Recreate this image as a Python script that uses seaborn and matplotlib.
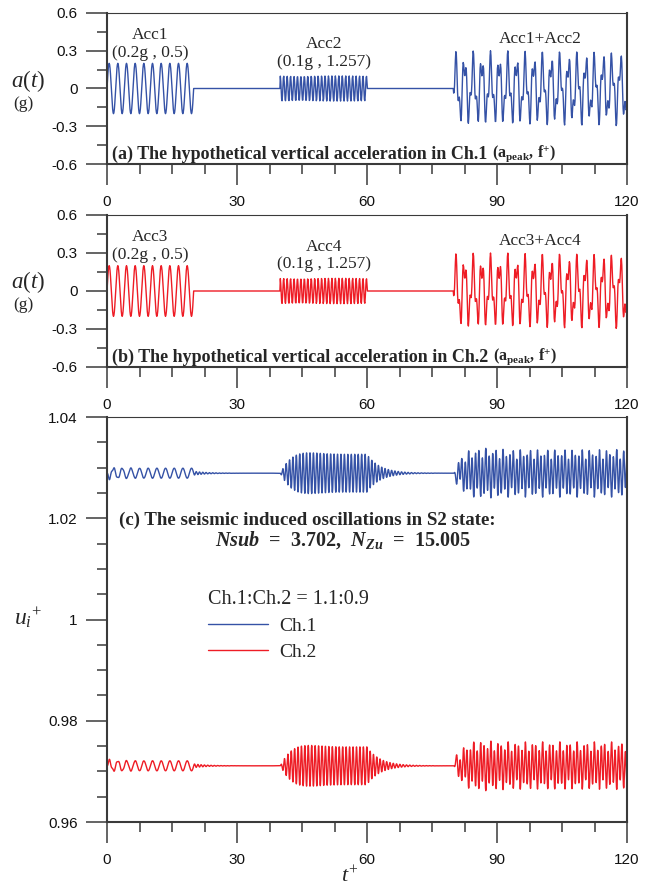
import numpy as np
import pandas as pd
import matplotlib
matplotlib.use("Agg")
import matplotlib.pyplot as plt
import seaborn as sns
from matplotlib.ticker import MultipleLocator, FuncFormatter

# ---------------- data ----------------
t_limits = [0, 120]
burst_starts = [0, 40, 80]          # start of each excitation burst (t+)
burst_ends = [20, 60, 120]          # end of each burst
burst_components = [[1, 0], [0, 1], [1, 1]]   # which of (Acc1, Acc2) is on
acc_peaks = [0.2, 0.1]              # a_peak in g
acc_freqs = [0.5, 1.257]            # f+
ch1_labels = ["Acc1", "Acc2", "Acc1+Acc2"]
ch2_labels = ["Acc3", "Acc4", "Acc3+Acc4"]
param_labels = ["(0.2g , 0.5)", "(0.1g , 1.257)"]
label_t = [10, 50, 100]
base_levels = [1.0289, 0.9711]      # mean u_i+ of Ch.1, Ch.2
resp_amp_burst1 = 0.001             # steady response amplitude in first burst
natural_freq = 1.31                 # oscillation frequency of response
damping_ratio = 0.04
channels = ["Ch.1", "Ch.2"]
ratio_title = "Ch.1:Ch.2 = 1.1:0.9"

blue = "#3552A6"
red = "#EE1C25"

# ---------------- build signals ----------------
dt = 0.01
t = np.round(np.arange(t_limits[0], t_limits[1] + dt / 2, dt), 4)
acc = np.zeros_like(t)
for s, e, comp in zip(burst_starts, burst_ends, burst_components):
    m = (t >= s) & (t <= e)
    for on, A, f in zip(comp, acc_peaks, acc_freqs):
        if on:
            acc[m] += A * np.sin(2 * np.pi * f * t[m])

# damped oscillator response
w = 2 * np.pi * natural_freq
x = np.zeros_like(t)
v = 0.0
xi = 0.0
for i in range(1, len(t)):
    a_ = w * w * (acc[i - 1] - xi) - 2 * damping_ratio * w * v
    v += a_ * dt
    xi += v * dt
    x[i] = xi
m1 = (t >= 10) & (t <= 20)
k = resp_amp_burst1 / np.abs(x[m1]).max()
u1 = base_levels[0] - k * x
u2 = base_levels[1] + k * x

step = 10
acc_df = pd.DataFrame({"t": t[::step], "a": acc[::step]})
resp_df = pd.concat([
    pd.DataFrame({"t": t, "u": u1, "ch": channels[0]}),
    pd.DataFrame({"t": t, "u": u2, "ch": channels[1]}),
])

# ---------------- styling ----------------
sns.set_style("ticks")
plt.rcParams["font.family"] = ["Liberation Sans", "DejaVu Sans"]
plt.rcParams["mathtext.fontset"] = "custom"
plt.rcParams["mathtext.rm"] = "Liberation Serif"
plt.rcParams["mathtext.it"] = "Liberation Serif:italic"
plt.rcParams["mathtext.bf"] = "Liberation Serif:bold"
try:
    plt.rcParams["mathtext.bfit"] = "Liberation Serif:italic:bold"
except KeyError:
    pass

serif = "Liberation Serif"
spine_c = "#3a3a3a"

fig = plt.figure(figsize=(6.48, 8.88), dpi=100)
W, H = 648, 888
def axrect(l, r, top, bot):
    return [l / W, 1 - bot / H, (r - l) / W, (bot - top) / H]

ax_a = fig.add_axes(axrect(107, 627, 13, 164))
ax_b = fig.add_axes(axrect(107, 627, 215, 367))
ax_c = fig.add_axes(axrect(107, 627, 417, 822))

fmt = FuncFormatter(lambda v, p: f"{v:g}")

def style(ax, ymaj, ymin):
    ax.set_xlim(*t_limits)
    ax.xaxis.set_major_locator(MultipleLocator(30))
    ax.xaxis.set_minor_locator(MultipleLocator(7.5))
    ax.yaxis.set_major_locator(MultipleLocator(ymaj))
    ax.yaxis.set_minor_locator(MultipleLocator(ymin))
    ax.yaxis.set_major_formatter(fmt)
    ax.xaxis.set_major_formatter(fmt)
    ax.tick_params(which="major", direction="out", length=15, width=1.1,
                   color=spine_c, labelsize=11, pad=6, labelcolor="#111")
    ax.tick_params(axis="x", which="major", pad=7.5)
    ax.tick_params(which="minor", direction="out", length=7.5, width=1.1,
                   color=spine_c)
    ax.tick_params(top=False, right=False)
    for side in ["left", "bottom", "right"]:
        ax.spines[side].set_linewidth(1.5)
        ax.spines[side].set_color(spine_c)
    ax.spines["top"].set_linewidth(0.8)
    ax.spines["top"].set_color(spine_c)
    for sp in ax.spines.values():
        sp.set_visible(True)
    ax.set_xlabel("")
    ax.set_ylabel("")

for ax, col, labs, cap in [
    (ax_a, blue, ch1_labels, "(a) The hypothetical vertical acceleration in Ch.1 "),
    (ax_b, red, ch2_labels, "(b) The hypothetical vertical acceleration in Ch.2 "),
]:
    sns.lineplot(data=acc_df, x="t", y="a", ax=ax, color=col, linewidth=1.0,
                 estimator=None)
    ax.set_ylim(-0.6, 0.6)
    style(ax, 0.3, 0.15)
    ax.text(label_t[0], 0.425, labs[0], family=serif, fontsize=12.5, ha="center", va="center")
    ax.text(label_t[0], 0.285, param_labels[0], family=serif, fontsize=12.5, ha="center", va="center")
    ax.text(label_t[1], 0.35, labs[1], family=serif, fontsize=12.5, ha="center", va="center")
    ax.text(label_t[1], 0.21, param_labels[1], family=serif, fontsize=12.5, ha="center", va="center")
    ax.text(label_t[2], 0.395, labs[2], family=serif, fontsize=12.5, ha="center", va="center")
    tx = ax.text(0.01, 0.065, cap, transform=ax.transAxes, family=serif,
                 fontsize=13, fontweight="bold", ha="left", va="center")
    ax.annotate(r"$\mathbf{(a_{peak},\,f^{+})}$", xy=(1, 0.5), xycoords=tx,
                fontsize=11.5, ha="left", va="center")

sns.lineplot(data=resp_df, x="t", y="u", hue="ch", palette=[blue, red], ax=ax_c,
             linewidth=1.0, estimator=None, legend=False)
ax_c.set_ylim(0.96, 1.04)
style(ax_c, 0.02, 0.005)

ax_c.text(0.023, 0.745, "(c) The seismic induced oscillations in S2 state:",
          transform=ax_c.transAxes, family=serif, fontsize=13.6, fontweight="bold",
          ha="left", va="center")
ax_c.text(0.454, 0.696,
          r"$\mathbfit{Nsub}$  =  3.702,  $\mathbfit{N}_{\mathbfit{Zu}}$  =  15.005",
          transform=ax_c.transAxes, family=serif, fontsize=14.5, fontweight="bold",
          ha="center", va="center")

handles = ax_c.lines[:2]
leg = ax_c.legend(handles, channels, title=ratio_title, loc="upper left",
                  bbox_to_anchor=((190 - 107) / 520, (822 - 572) / 405),
                  frameon=False, prop={"family": serif, "size": 14},
                  title_fontproperties={"family": serif, "size": 14.5},
                  alignment="left", handlelength=3.1, labelspacing=0.45,
                  handletextpad=0.6)

# axis labels
fig.text(28.5 / W, 1 - 81 / H, r"$a(t)$", fontsize=16.5, ha="center", va="center")
fig.text(23 / W, 1 - 104 / H, "(g)", family=serif, fontsize=12.5, ha="center", va="center")
fig.text(28.5 / W, 1 - 282 / H, r"$a(t)$", fontsize=16.5, ha="center", va="center")
fig.text(23 / W, 1 - 305 / H, "(g)", family=serif, fontsize=12.5, ha="center", va="center")
fig.text(28 / W, 1 - 618 / H, r"$u_i{}^{+}$", fontsize=17, ha="center", va="center")
fig.text(350 / W, 1 - 877 / H, r"$t^{+}$", fontsize=16, ha="center", va="center")

fig.savefig("out.png", dpi=100)
